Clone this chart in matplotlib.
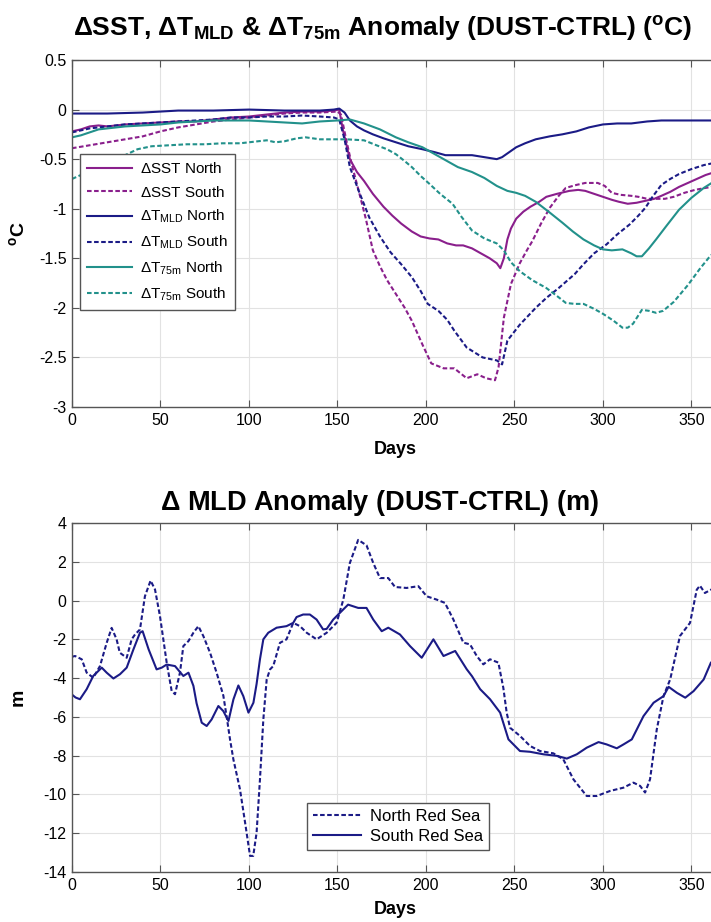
import numpy as np
import matplotlib
matplotlib.use("Agg")
import matplotlib.pyplot as plt

plt.rcParams['font.family'] = ['Liberation Sans', 'DejaVu Sans']
plt.rcParams['mathtext.fontset'] = 'custom'
plt.rcParams['mathtext.rm'] = 'Liberation Sans'
plt.rcParams['mathtext.it'] = 'Liberation Sans:italic'
plt.rcParams['mathtext.bf'] = 'Liberation Sans:bold'
plt.rcParams['axes.unicode_minus'] = False

# ---------------- Top panel data (deg C) ----------------
sst_n_days = [0, 5, 10, 15, 20, 30, 40, 50, 60, 70, 80, 90, 100, 110, 120, 130, 140, 148, 151, 153,
              157, 161, 165, 170, 176, 181, 186, 192, 197, 202, 207, 212, 217, 221, 226, 231, 236, 240,
              242, 244, 246, 248, 251, 255, 259, 264, 268, 274, 281, 286, 290, 295, 300, 305, 309, 314,
              319, 324, 329, 333, 338, 343, 348, 353, 358, 365]
sst_n_vals = [-0.22, -0.2, -0.17, -0.16, -0.17, -0.15, -0.14, -0.13, -0.12, -0.12, -0.1, -0.08, -0.07,
              -0.05, -0.03, -0.02, -0.02, -0.01, 0.0, -0.2, -0.5, -0.63, -0.72, -0.85, -0.98, -1.07,
              -1.15, -1.23, -1.28, -1.3, -1.31, -1.35, -1.37, -1.37, -1.4, -1.45, -1.5, -1.55, -1.6,
              -1.5, -1.31, -1.2, -1.1, -1.03, -0.98, -0.93, -0.88, -0.85, -0.82, -0.81, -0.82, -0.85,
              -0.88, -0.91, -0.93, -0.95, -0.94, -0.92, -0.9, -0.87, -0.83, -0.78, -0.74, -0.7, -0.66,
              -0.62]

sst_s_days = [0, 10, 20, 30, 40, 50, 60, 70, 80, 90, 100, 110, 120, 130, 140, 150, 152, 155, 158, 162,
              166, 170, 174, 178, 183, 188, 192, 198, 203, 210, 216, 223, 229, 234, 239, 241, 244, 248,
              253, 257, 260, 265, 270, 275, 279, 285, 290, 297, 301, 305, 310, 316, 320, 325, 330, 335,
              340, 346, 352, 358, 365]
sst_s_vals = [-0.39, -0.36, -0.33, -0.3, -0.27, -0.22, -0.18, -0.15, -0.12, -0.1, -0.08, -0.06, -0.04,
              -0.03, -0.03, -0.02, -0.05, -0.31, -0.55, -0.82, -1.1, -1.42, -1.58, -1.72, -1.86, -2.0,
              -2.13, -2.37, -2.56, -2.61, -2.61, -2.71, -2.67, -2.71, -2.73, -2.6, -2.1, -1.76, -1.55,
              -1.42, -1.33, -1.15, -0.99, -0.87, -0.79, -0.76, -0.74, -0.74, -0.77, -0.84, -0.86, -0.87,
              -0.88, -0.9, -0.9, -0.9, -0.88, -0.84, -0.81, -0.79, -0.77]

tmld_n_days = [0, 20, 40, 60, 80, 100, 120, 140, 148, 151, 154, 157, 161, 165, 170, 176, 183, 190, 198,
               205, 211, 218, 226, 233, 240, 243, 247, 251, 256, 262, 270, 277, 285, 292, 300, 308, 316,
               325, 333, 345, 355, 365]
tmld_n_vals = [-0.04, -0.04, -0.03, -0.01, -0.01, 0.0, -0.01, -0.01, 0.0, 0.01, -0.03, -0.11, -0.17,
               -0.21, -0.25, -0.29, -0.33, -0.37, -0.4, -0.43, -0.46, -0.46, -0.46, -0.48, -0.5, -0.48,
               -0.43, -0.38, -0.34, -0.3, -0.27, -0.25, -0.22, -0.18, -0.15, -0.14, -0.14, -0.12, -0.11,
               -0.11, -0.11, -0.11]

tmld_s_days = [0, 10, 20, 30, 40, 50, 60, 70, 80, 90, 100, 110, 120, 130, 140, 148, 151, 154, 157, 162,
               168, 174, 180, 186, 192, 197, 201, 207, 212, 216, 223, 232, 240, 243, 246, 253, 262, 268,
               275, 284, 289, 295, 302, 308, 315, 320, 324, 328, 333, 338, 343, 350, 357, 365]
tmld_s_vals = [-0.23, -0.19, -0.17, -0.15, -0.14, -0.13, -0.12, -0.11, -0.1, -0.08, -0.08, -0.07, -0.07,
               -0.06, -0.07, -0.08, -0.1, -0.3, -0.58, -0.82, -1.09, -1.28, -1.44, -1.56, -1.69, -1.83,
               -1.96, -2.03, -2.12, -2.23, -2.4, -2.5, -2.53, -2.57, -2.33, -2.17, -2.0, -1.9, -1.8,
               -1.66, -1.56, -1.45, -1.36, -1.26, -1.16, -1.07, -0.99, -0.88, -0.76, -0.7, -0.65, -0.6,
               -0.56, -0.53]

t75_n_days = [0, 5, 10, 15, 20, 30, 40, 50, 60, 70, 80, 90, 100, 110, 120, 130, 140, 150, 157, 165, 174,
              183, 190, 198, 205, 211, 218, 226, 233, 240, 246, 251, 256, 262, 270, 277, 283, 289, 295,
              300, 305, 311, 316, 319, 322, 326, 330, 336, 343, 350, 357, 365]
t75_n_vals = [-0.28, -0.26, -0.23, -0.2, -0.19, -0.17, -0.16, -0.15, -0.13, -0.12, -0.11, -0.11, -0.11,
              -0.12, -0.13, -0.14, -0.12, -0.11, -0.1, -0.14, -0.2, -0.28, -0.33, -0.38, -0.45, -0.51,
              -0.58, -0.63, -0.69, -0.77, -0.82, -0.84, -0.87, -0.93, -1.04, -1.14, -1.23, -1.31, -1.37,
              -1.41, -1.42, -1.41, -1.45, -1.48, -1.48, -1.4, -1.31, -1.17, -1.01, -0.89, -0.79, -0.7]

t75_s_days = [0, 5, 10, 15, 20, 25, 30, 37, 45, 55, 65, 75, 85, 95, 105, 110, 115, 120, 127, 132, 140,
              147, 155, 165, 172, 178, 183, 188, 192, 197, 202, 208, 215, 220, 226, 233, 240, 244, 248,
              253, 260, 268, 274, 279, 284, 289, 295, 300, 306, 311, 314, 317, 322, 326, 330, 334, 340,
              348, 355, 360, 365]
t75_s_vals = [-0.7, -0.66, -0.62, -0.58, -0.55, -0.5, -0.46, -0.4, -0.37, -0.36, -0.35, -0.35, -0.34,
              -0.34, -0.32, -0.31, -0.33, -0.32, -0.29, -0.28, -0.3, -0.3, -0.3, -0.31, -0.36, -0.4,
              -0.45, -0.52, -0.58, -0.67, -0.75, -0.85, -0.95, -1.08, -1.22, -1.3, -1.35, -1.42, -1.54,
              -1.63, -1.72, -1.8, -1.88, -1.95, -1.96, -1.96, -2.01, -2.06, -2.13, -2.2, -2.2, -2.16,
              -2.02, -2.03, -2.05, -2.03, -1.94, -1.77, -1.6, -1.49, -1.4]

top_labels = [r'$\Delta$SST North', r'$\Delta$SST South',
              r'$\Delta$T$_{\mathrm{MLD}}$ North', r'$\Delta$T$_{\mathrm{MLD}}$ South',
              r'$\Delta$T$_{\mathrm{75m}}$ North', r'$\Delta$T$_{\mathrm{75m}}$ South']

# ---------------- Bottom panel data (m) ----------------
north_days = [0, 1.7, 5.5, 8.3, 12, 15.8, 19.6, 22.4, 25.2, 27, 30.9, 33.7, 35.6, 38.4, 41.2, 44.4, 46.9,
              49.7, 53.5, 56.3, 58.2, 61, 62.9, 65.8, 68.6, 71.4, 74.2, 78, 81.7, 85.5, 87.4, 89.3, 91.2,
              94.9, 97.8, 100.6, 102.4, 104.3, 106.2, 108.1, 110, 111.9, 113.7, 117.5, 121.2, 125,
              128.8, 132.6, 138.2, 143.9, 149.5, 153.3, 157, 161.7, 166.4, 170.2, 174, 178.7, 182.5,
              189, 195.7, 200.4, 206, 210.7, 215.5, 221.1, 224.9, 228.7, 232.4, 236.2, 240.9, 243.7,
              245.6, 247.5, 253.1, 258.8, 264.4, 272, 277.6, 283.3, 290.8, 296.5, 304, 311.6, 317.2,
              321, 323.8, 326.6, 330.4, 334.2, 338, 343.5, 349.2, 353, 354.8, 357.6, 361, 365]
north_vals = [-2.9, -2.86, -3.03, -3.72, -3.98, -3.38, -2.18, -1.41, -2.0, -2.69, -2.95, -2.0, -1.75,
              -1.49, 0.22, 1.03, 0.57, -0.8, -3.2, -4.66, -4.83, -3.72, -2.35, -2.09, -1.66, -1.32,
              -1.83, -2.69, -3.72, -4.9, -6.0, -7.17, -8.2, -9.73, -11.45, -13.17, -13.17, -11.97,
              -9.23, -6.14, -4.07, -3.55, -3.38, -2.18, -2.0, -1.15, -1.32, -1.66, -2.0, -1.66, -1.15,
              0.05, 1.94, 3.13, 2.85, 1.94, 1.16, 1.16, 0.7, 0.65, 0.74, 0.22, 0.05, -0.12, -0.98,
              -2.17, -2.26, -2.86, -3.29, -3.03, -3.2, -4.5, -5.78, -6.56, -6.98, -7.5, -7.76, -7.88,
              -8.19, -9.22, -10.08, -10.08, -9.82, -9.65, -9.39, -9.56, -9.9, -9.22, -6.65, -4.93,
              -4.06, -1.83, -1.15, 0.56, 0.77, 0.39, 0.56, 0.6]

south_days = [0, 2, 4.5, 8.3, 12, 16.8, 19.6, 23.4, 27.1, 30.9, 34.7, 38.4, 39.9, 43.3, 47.8, 50.7,
              53.5, 58.2, 62.9, 65.8, 68.6, 70.4, 73.3, 76.1, 78.9, 82.7, 85.5, 88.4, 91.2, 94, 96.8,
              99.7, 102.5, 104.3, 106.2, 108.1, 110.9, 115.6, 121.2, 125, 126.9, 130.6, 134.4, 138.2,
              141.9, 143.9, 147.6, 151.4, 156, 161.7, 166.4, 170.2, 175, 178.7, 185.3, 191, 197.6,
              204.2, 209.9, 216.5, 223, 226, 230.6, 236.2, 241.9, 246.6, 253.1, 258.8, 266.4, 273.9,
              279.6, 285.2, 290.8, 297.5, 302.1, 307.8, 311.6, 316.3, 322.9, 328.6, 334.2, 337.1,
              341.8, 346.5, 351.2, 356.9, 361, 365]
south_vals = [-4.85, -5.0, -5.09, -4.57, -3.89, -3.46, -3.72, -4.02, -3.8, -3.46, -2.52, -1.66, -1.58,
              -2.52, -3.55, -3.46, -3.3, -3.38, -3.89, -3.72, -4.4, -5.3, -6.3, -6.47, -6.13, -5.44,
              -5.7, -6.21, -5.1, -4.38, -4.93, -5.78, -5.27, -4.3, -3.03, -2.0, -1.66, -1.4, -1.32,
              -1.15, -0.85, -0.72, -0.72, -0.98, -1.49, -1.46, -0.98, -0.63, -0.21, -0.38, -0.38,
              -0.98, -1.58, -1.4, -1.75, -2.35, -2.95, -2.0, -2.86, -2.6, -3.54, -3.9, -4.57, -5.09,
              -5.78, -7.16, -7.76, -7.8, -7.93, -8.01, -8.15, -7.93, -7.59, -7.3, -7.42, -7.62, -7.42,
              -7.16, -5.96, -5.27, -4.93, -4.45, -4.76, -5.01, -4.67, -4.07, -3.2, -2.9]

bottom_labels = ['North Red Sea', 'South Red Sea']

x_ticks = [0, 50, 100, 150, 200, 250, 300, 350]
top_yticks = [0.5, 0, -0.5, -1, -1.5, -2, -2.5, -3]
bot_yticks = [4, 2, 0, -2, -4, -6, -8, -10, -12, -14]

# ---------------- Styling ----------------
PURPLE = '#8a1f8c'
NAVY = '#1b1b86'
TEAL = '#22918b'
LW = 1.5
TICK_FS = 11.5
DASH = (0, (2.2, 1.2))

W, H = 711, 922
fig = plt.figure(figsize=(W / 100, H / 100), dpi=100)

ax_left = 72 / W
ax_w = (718 - 72) / W
ax1 = fig.add_axes([ax_left, 1 - 407 / H, ax_w, 347 / H])
ax2 = fig.add_axes([ax_left, 1 - 872 / H, ax_w, 349 / H])


def style(ax, xpad):
    ax.grid(True, color='#e2e2e2', linewidth=0.8, linestyle='-')
    ax.set_axisbelow(True)
    for s in ax.spines.values():
        s.set_color('#555555')
        s.set_linewidth(1.0)
    ax.tick_params(direction='in', length=5, width=0.8, colors='#555555', labelcolor='black',
                   labelsize=TICK_FS, top=True, right=True, pad=4)
    ax.set_xticks(x_ticks)
    ax.set_xticklabels([str(t) for t in x_ticks])
    ax.set_xlim(0, 365)
    ax.set_xlabel('Days', fontsize=13, fontweight='bold', labelpad=xpad)


# Top panel
ax1.plot(sst_n_days, sst_n_vals, color=PURPLE, lw=LW, ls='-', label=top_labels[0])
ax1.plot(sst_s_days, sst_s_vals, color=PURPLE, lw=LW, ls=DASH, label=top_labels[1])
ax1.plot(tmld_n_days, tmld_n_vals, color=NAVY, lw=LW, ls='-', label=top_labels[2])
ax1.plot(tmld_s_days, tmld_s_vals, color=NAVY, lw=LW, ls=DASH, label=top_labels[3])
ax1.plot(t75_n_days, t75_n_vals, color=TEAL, lw=LW, ls='-', label=top_labels[4])
ax1.plot(t75_s_days, t75_s_vals, color=TEAL, lw=LW, ls=DASH, label=top_labels[5])
style(ax1, 10)
ax1.set_ylim(-3, 0.5)
ax1.set_yticks(top_yticks)
ax1.set_yticklabels(['0.5', '0', '-0.5', '-1', '-1.5', '-2', '-2.5', '-3'])
ax1.set_ylabel(r'$^{\mathbf{o}}$C', fontsize=14, fontweight='bold', labelpad=8)
leg1 = ax1.legend(loc='upper left', bbox_to_anchor=(0.012, 0.728), fontsize=11, frameon=True,
                  fancybox=False, edgecolor='#555555', framealpha=1, handlelength=3.0,
                  borderpad=0.45, labelspacing=0.55, handletextpad=0.5, borderaxespad=0)
leg1.get_frame().set_linewidth(1.0)

# Bottom panel
ax2.plot(north_days, north_vals, color=NAVY, lw=LW, ls=DASH, label=bottom_labels[0])
ax2.plot(south_days, south_vals, color=NAVY, lw=LW, ls='-', label=bottom_labels[1])
style(ax2, 6)
ax2.set_ylim(-14, 4)
ax2.set_yticks(bot_yticks)
ax2.set_yticklabels([str(t) for t in bot_yticks])
ax2.set_ylabel('m', fontsize=14, fontweight='bold', labelpad=12)
leg2 = ax2.legend(loc='upper left', bbox_to_anchor=(0.364, 0.198), fontsize=12, frameon=True,
                  fancybox=False, edgecolor='#555555', framealpha=1, handlelength=2.9,
                  borderpad=0.35, labelspacing=0.3, handletextpad=0.5, borderaxespad=0)
leg2.get_frame().set_linewidth(1.0)

# Titles
fig.text(382 / W, 1 - 36 / H,
         r'$\mathbf{\Delta}$SST, $\mathbf{\Delta}$T$_{\mathbf{MLD}}$ & $\mathbf{\Delta}$T$_{\mathbf{75m}}$ Anomaly (DUST-CTRL) ($^{\mathbf{o}}$C)',
         ha='center', va='baseline', fontsize=19, fontweight='bold')
fig.text(379 / W, 1 - 510 / H, r'$\mathbf{\Delta}$ MLD Anomaly (DUST-CTRL) (m)',
         ha='center', va='baseline', fontsize=19.5, fontweight='bold')

fig.savefig('out.png', dpi=100)
